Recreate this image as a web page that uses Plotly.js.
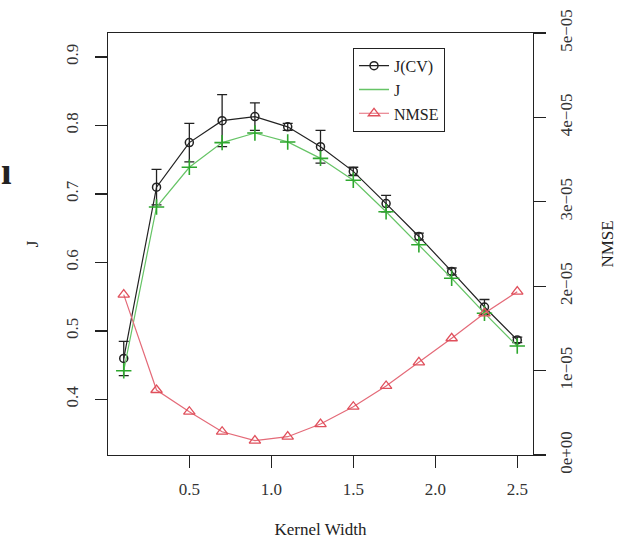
<!DOCTYPE html>
<html>
<head>
<meta charset="utf-8">
<script src="https://cdn.plot.ly/plotly-3.0.1.min.js"></script>
<style>html,body{margin:0;padding:0;background:#fff;}#chart{width:621px;height:539px;}</style>
</head>
<body>
<div id="chart"></div>
<script>
// Data
const kernelWidth = [0.1, 0.3, 0.5, 0.7, 0.9, 1.1, 1.3, 1.5, 1.7, 1.9, 2.1, 2.3, 2.5];
const jCV       = [0.460, 0.710, 0.775, 0.807, 0.813, 0.798, 0.769, 0.733, 0.686, 0.638, 0.587, 0.535, 0.487];
const jCVErr    = [0.025, 0.026, 0.028, 0.038, 0.020, 0.005, 0.024, 0.006, 0.012, 0.005, 0.005, 0.011, 0.004];
const jTrain    = [0.442, 0.681, 0.739, 0.775, 0.789, 0.776, 0.752, 0.720, 0.674, 0.626, 0.577, 0.526, 0.478];
const nmse      = [1.90e-5, 0.77e-5, 0.513e-5, 0.276e-5, 0.17e-5, 0.217e-5, 0.367e-5, 0.572e-5, 0.818e-5, 1.098e-5, 1.383e-5, 1.679e-5, 1.935e-5];
const xTicks    = [0.5, 1.0, 1.5, 2.0, 2.5];
const xTickText = ["0.5", "1.0", "1.5", "2.0", "2.5"];
const yTicks    = [0.4, 0.5, 0.6, 0.7, 0.8, 0.9];
const y2Ticks   = [0, 1e-5, 2e-5, 3e-5, 4e-5, 5e-5];
const y2TickText = ["0e+00", "1e\u221205", "2e\u221205", "3e\u221205", "4e\u221205", "5e\u221205"];

const SERIF = "Liberation Serif, Times New Roman, serif";
const BLACK = "#222222", GREEN = "#2ea82e", GREENLINE = "#66c466", RED = "#e0505c", REDLINE = "#e46a78";

const traces = [
  {x: kernelWidth, y: jCV, type: "scatter", mode: "lines+markers", name: "J(CV)",
   line: {color: BLACK, width: 1.2},
   marker: {symbol: "circle-open", size: 8, color: BLACK, line: {width: 1.5, color: BLACK}},
   error_y: {type: "data", array: jCVErr, visible: true, color: BLACK, thickness: 1.3, width: 5},
   showlegend: true},
  {x: kernelWidth, y: jTrain, type: "scatter", mode: "lines+markers", name: "J",
   line: {color: GREENLINE, width: 1.2},
   marker: {symbol: "cross-thin-open", size: 11, color: GREEN, line: {width: 1.6, color: GREEN}},
   showlegend: false},
  {x: [null], y: [null], type: "scatter", mode: "lines", name: "J",
   line: {color: GREENLINE, width: 1.5}, showlegend: true},
  {x: kernelWidth, y: nmse, type: "scatter", mode: "lines+markers", name: "NMSE", yaxis: "y2",
   line: {color: REDLINE, width: 1.2},
   marker: {symbol: "triangle-up-open", size: 10, color: RED, line: {width: 1.3, color: RED}},
   showlegend: true}
];

const axisFont = {family: SERIF, size: 17, color: "#333"};
const titleFont = {family: SERIF, size: 17, color: "#222"};

const layout = {
  width: 621, height: 539,
  margin: {l: 108, r: 88, t: 33, b: 84, pad: 0},
  paper_bgcolor: "#fff", plot_bgcolor: "#fff",
  font: {family: SERIF, color: "#222"},
  showlegend: true,
  legend: {x: 0.5765, y: 0.965, xanchor: "left", yanchor: "top",
           bordercolor: "#222", borderwidth: 1, bgcolor: "#fff",
           font: {family: SERIF, size: 16, color: "#222"},
           tracegroupgap: 0, itemwidth: 30},
  xaxis: {range: [0.004, 2.596], tickvals: xTicks, ticktext: xTickText,
          showgrid: false, zeroline: false, showline: true, linecolor: "#222", linewidth: 1.3,
          mirror: true, ticks: "outside", ticklen: 12, tickwidth: 1.3, tickcolor: "#222",
          tickfont: axisFont, ticklabelstandoff: 6,
          title: {text: "Kernel Width", font: titleFont, standoff: 27}},
  yaxis: {range: [0.319, 0.935], tickvals: yTicks, ticktext: yTicks.map(v => v.toFixed(1)),
          showgrid: false, zeroline: false, showline: true, linecolor: "#222", linewidth: 1.3,
          mirror: true, ticks: "outside", ticklen: 12, tickwidth: 1.3, tickcolor: "#222",
          tickangle: -90, tickfont: axisFont, ticklabelstandoff: 10,
          title: {text: "J", font: titleFont, standoff: 20}},
  yaxis2: {range: [0, 5e-5], tickvals: y2Ticks, ticktext: y2TickText, overlaying: "y", side: "right",
           showgrid: false, zeroline: false, showline: true, linecolor: "#222", linewidth: 1.3,
           ticks: "outside", ticklen: 12, tickwidth: 1.3, tickcolor: "#222",
           tickangle: -90, tickfont: axisFont, ticklabelstandoff: 5,
           title: {text: "NMSE", font: titleFont, standoff: 26}},
  annotations: [
    {text: "<b>ı</b>", xref: "paper", yref: "paper", x: -0.2541, y: 0.674,
     xanchor: "left", yanchor: "middle", showarrow: false, borderpad: 0,
     font: {family: SERIF, size: 38, color: "#222"}}
  ]
};

Plotly.newPlot("chart", traces, layout, {displayModeBar: false, staticPlot: true});
</script>
</body>
</html>
